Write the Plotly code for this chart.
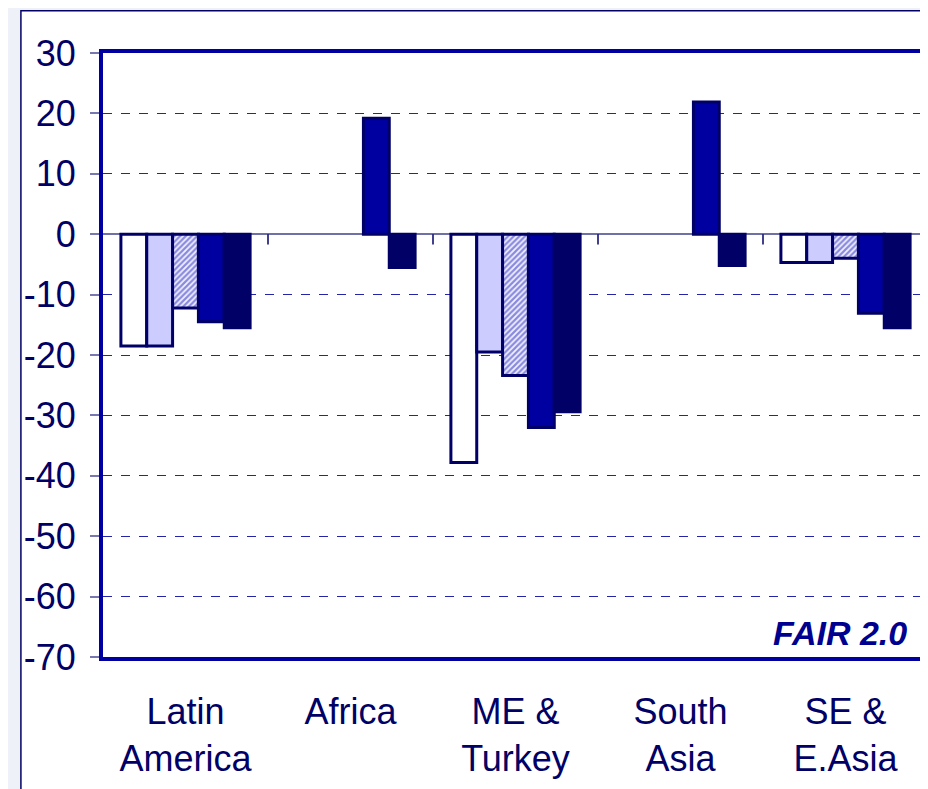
import plotly.graph_objects as go

categories = ["Latin<br>America", "Africa", "ME &<br>Turkey", "South<br>Asia", "SE &<br>E.Asia"]
series_1 = [-18.5, None, -37.8, None, -4.7]
series_2 = [-18.5, None, -19.5, None, -4.7]
series_3 = [-12.2, None, -23.4, None, -4.0]
series_4 = [-14.5, 19.2, -32.0, 21.9, -13.1]
series_5 = [-15.5, -5.5, -29.4, -5.2, -15.5]
y_ticks = [30, 20, 10, 0, -10, -20, -30, -40, -50, -60, -70]

NAVY = "#000066"
BLUE = "#0000a0"

fig = go.Figure()
fills = [
    dict(color="white"),
    dict(color="#ccccff"),
    dict(color="white", pattern=dict(shape="/", fgcolor="#2020c0", bgcolor="#f2f2ff", size=4, solidity=0.55)),
    dict(color=BLUE),
    dict(color=NAVY),
]
for vals, f in zip([series_1, series_2, series_3, series_4, series_5], fills):
    fig.add_trace(go.Bar(
        x=categories, y=vals,
        marker=dict(**f, line=dict(color=NAVY, width=3)),
        showlegend=False,
    ))

# category boundary ticks on the zero line
for i in range(len(categories) - 1):
    fig.add_shape(type="line", xref="x", yref="y", x0=i + 0.5, x1=i + 0.5, y0=0, y1=-1.7,
                  line=dict(color=NAVY, width=1.5), layer="above")

# outer slide frame
fig.add_shape(type="rect", xref="paper", yref="paper", x0=-0.0995, x1=1.2, y0=-0.5, y1=1.07,
              line=dict(color=NAVY, width=1.5), fillcolor="white", layer="below")

fig.add_annotation(text="<b><i>FAIR 2.0</i></b>", xref="paper", yref="paper", x=1, y=0,
                   xanchor="right", yanchor="bottom", xshift=-19, yshift=3, showarrow=False,
                   font=dict(family="Liberation Sans, Arial", size=34, color="#000090"))

fig.update_layout(
    width=928, height=789,
    margin=dict(l=95, r=4, t=45, b=140),
    paper_bgcolor="#eef2f8",
    plot_bgcolor="white",
    barmode="group", bargap=0.217, bargroupgap=0,
    font=dict(family="Liberation Sans, Arial", color=NAVY),
    xaxis=dict(
        showline=True, linecolor=BLUE, linewidth=4, mirror=True,
        ticks="", tickfont=dict(size=36, color=NAVY), ticklabelstandoff=20,
        showgrid=False,
    ),
    yaxis=dict(
        range=[-70, 30], tickvals=y_ticks, ticktext=[str(v) for v in y_ticks],
        showline=True, linecolor=BLUE, linewidth=4, mirror=True,
        ticks="outside", ticklen=9, tickcolor="#7878b0", tickwidth=1.5,
        tickfont=dict(size=36, color=NAVY), ticklabelstandoff=7,
        showgrid=True, gridcolor="#2424a8", griddash="dash", gridwidth=1,
        zeroline=True, zerolinecolor="#7070a8", zerolinewidth=2,
    ),
)

fig.write_html("out.html")
